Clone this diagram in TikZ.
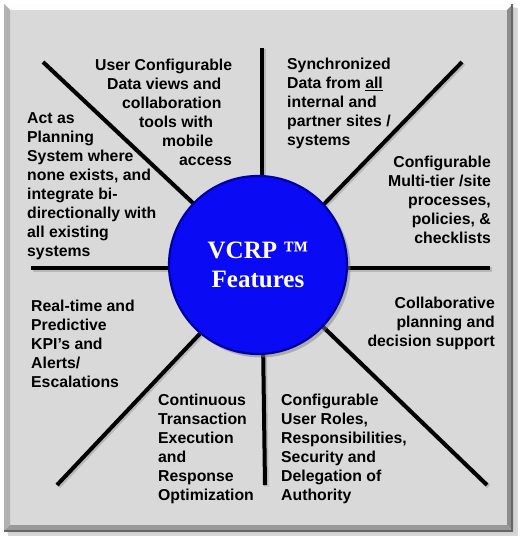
\documentclass[tikz,border=0pt]{standalone}
\usepackage{fontspec}
\setmainfont{Liberation Sans}
\newfontfamily\hubfont{Liberation Serif}
\begin{document}
\begin{tikzpicture}[x=1pt,y=-1pt,
  spoke/.style={line width=4pt,black},
  spokeshadow/.style={line width=4.5pt,black!40,opacity=0.5},
  feat/.style={inner sep=0pt,font=\bfseries\fontsize{15.8}{19}\selectfont,text=black},
  featL/.style={feat,align=left,anchor=base west},
  featR/.style={feat,align=right,anchor=base east},
  hub/.style={circle,minimum size=178pt,inner sep=0pt,
    fill={rgb,255:red,10;green,10;blue,245},
    draw={rgb,255:red,0;green,0;blue,160},line width=2.2pt,
    text=white,align=center,
    font=\hubfont\bfseries\fontsize{25}{29}\selectfont}
]
\definecolor{panel}{RGB}{217,217,217}
\useasboundingbox (0,0) rectangle (519,540);
% panel shadow
\fill[black!30,opacity=0.5] (8,8) rectangle (518,536);
\fill[black!20,opacity=0.5] (7,7) rectangle (516,534);
% panel
\fill[panel] (4,4) rectangle (513,531);
\fill[white!95!panel] (4,4) -- (513,4) -- (507,10) -- (10,10) -- cycle;
\fill[black!30] (4,4) -- (10,10) -- (10,525) -- (4,531) -- cycle;
\fill[black!45] (513,4) -- (513,531) -- (507,525) -- (507,10) -- cycle;
\fill[black!40] (4,531) -- (513,531) -- (507,525) -- (10,525) -- cycle;
\draw[black!60,line width=1.5pt] (512,4) -- (512,531) -- (4,531);
% spokes
\coordinate (hubc) at (262,268);
\coordinate (eN) at (262,48);
\coordinate (eS) at (265,485);
\coordinate (eW) at (31,268);
\coordinate (eE) at (490,268);
\coordinate (eNW) at (43,62);
\coordinate (eNE) at (462,62);
\coordinate (eSW) at (57,485);
\coordinate (eSE) at (487,485);
\foreach \e in {eN,eS,eW,eE,eNW,eNE,eSW,eSE}{
  \draw[spokeshadow] ([shift={(1.5,1.5)}]hubc) -- ([shift={(1.5,1.5)}]\e);
}
\foreach \e in {eN,eS,eW,eE,eNW,eNE,eSW,eSE}{
  \draw[spoke] (hubc) -- (\e);
}
% hub
\fill[black!50,opacity=0.5] (261,268) circle (89.5pt);
\node[hub] (core) at (258,265) {VCRP ™\\Features};
% features (anchor = baseline of last line)
\node[featL] (f1) at (95,166) {User Configurable\\\hspace*{12pt}Data views and\\\hspace*{27pt}collaboration\\\hspace*{44pt}tools with\\\hspace*{67pt}mobile\\\hspace*{84pt}access};
\node[featL] (f2) at (287,146) {Synchronized\\Data from \underline{all}\\internal and\\partner sites /\\systems};
\node[featR] (f3) at (491,243) {Configurable\\Multi-tier /site\\processes,\\policies, \&\\checklists};
\node[featR] (f4) at (495,346) {Collaborative\\planning and\\decision support};
\node[featL] (f5) at (281,500) {Configurable\\User Roles,\\Responsibilities,\\Security and\\Delegation of\\Authority};
\node[featL] (f6) at (158,500) {Continuous\\Transaction\\Execution\\and\\Response\\Optimization};
\node[featL] (f7) at (31,387) {Real-time and\\Predictive\\KPI’s and\\Alerts/\\Escalations};
\node[featL] (f8) at (27,256) {Act as\\Planning\\System where\\none exists, and\\integrate bi-\\directionally with\\all existing\\systems};
\end{tikzpicture}
\end{document}
